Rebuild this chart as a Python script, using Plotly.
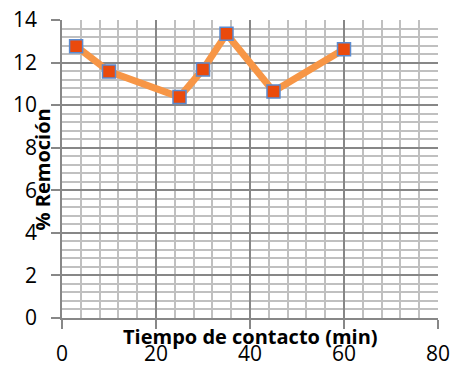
import plotly.graph_objects as go

# Contact time (min) vs. removal percentage
tiempo = [3, 10, 25, 30, 35, 45, 60]
remocion = [12.77, 11.58, 10.38, 11.68, 13.35, 10.64, 12.63]

x_ticks = [0, 20, 40, 60, 80]
y_ticks = [0, 2, 4, 6, 8, 10, 12, 14]

FONT = "Open Sans"
MAJOR = "#878787"
MINOR = "#c0c0c0"

fig = go.Figure()
fig.add_trace(go.Scatter(
    x=tiempo, y=remocion,
    mode="lines+markers",
    line=dict(color="#F79646", width=7),
    marker=dict(symbol="square", size=13, color="#EA4A0C",
                line=dict(color="#5B8BD0", width=1.5)),
    showlegend=False,
))

fig.update_layout(
    width=453, height=365,
    margin=dict(l=62, r=15, t=20, b=47, autoexpand=False),
    paper_bgcolor="white", plot_bgcolor="white",
    font=dict(family=FONT, size=21, color="black"),
    xaxis=dict(
        range=[0, 80], tickvals=x_ticks, ticktext=[str(v) for v in x_ticks],
        showgrid=True, gridcolor=MAJOR, gridwidth=1.5,
        minor=dict(dtick=4, tick0=0, showgrid=True, gridcolor=MINOR, gridwidth=1.5),
        showline=True, linecolor=MAJOR, linewidth=1.5,
        ticks="outside", ticklen=9, tickcolor=MAJOR, tickwidth=1.5,
        ticklabelstandoff=7, automargin=False,
        zeroline=False, mirror=False,
    ),
    yaxis=dict(
        range=[0, 14], tickvals=y_ticks, ticktext=[str(v) for v in y_ticks],
        showgrid=True, gridcolor=MAJOR, gridwidth=1.5,
        minor=dict(dtick=0.4, tick0=0, showgrid=True, gridcolor=MINOR, gridwidth=1.5),
        showline=True, linecolor=MAJOR, linewidth=1.5,
        ticks="outside", ticklen=9, tickcolor=MAJOR, tickwidth=1.5,
        ticklabelstandoff=10, automargin=False,
        zeroline=False,
    ),
    annotations=[
        dict(text="<b>Tiempo de contacto (min)</b>", xref="paper", yref="paper",
             x=0.5, y=-0.062, xanchor="center", yanchor="middle",
             showarrow=False, font=dict(family=FONT, size=20, color="black")),
        dict(text="<b>% Remoción</b>", xref="paper", yref="paper",
             x=-0.052, y=0.5, xanchor="center", yanchor="middle", textangle=-90,
             showarrow=False, font=dict(family=FONT, size=20, color="black")),
    ],
)

fig.write_html("out.html")
